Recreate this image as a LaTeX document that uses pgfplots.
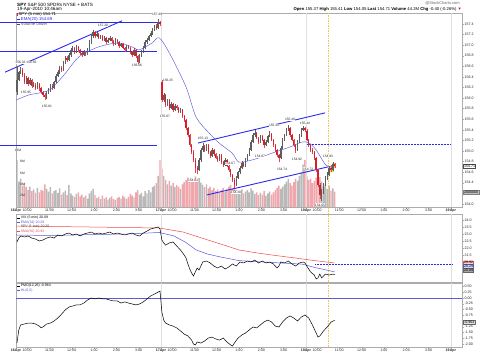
\documentclass[border=0pt]{standalone}
\usepackage{pgfplots}
\pgfplotsset{compat=1.18}
\usepackage{pgfplotstable}
\usepackage{fontspec}
\setmainfont{Liberation Sans}
\definecolor{upc}{HTML}{5E5E5E}
\definecolor{dnc}{HTML}{D81E2C}
\definecolor{vup}{HTML}{B9B9B9}
\definecolor{vdn}{HTML}{F0A6AD}
\definecolor{chan}{HTML}{2B2BEA}
\definecolor{emac}{HTML}{5B5BD8}
\definecolor{smac}{HTML}{F04A4A}
\definecolor{orng}{HTML}{F5C15A}
\definecolor{hil}{HTML}{F3DC3A}

\pgfplotstableread{
x o h l c v
0.5 156.12 156.60 156.06 156.34 8.3
1.5 156.34 156.52 156.32 156.49 4.5
2.5 156.49 156.59 156.46 156.53 5.0
3.5 156.53 156.56 156.40 156.44 3.8
4.5 156.44 156.47 156.27 156.30 4.2
5.5 156.30 156.42 156.26 156.38 3.5
6.5 156.38 156.40 156.22 156.27 3.0
7.5 156.27 156.38 156.25 156.34 3.6
8.5 156.34 156.36 156.19 156.23 2.8
9.5 156.23 156.30 156.20 156.25 3.1
10.5 156.25 156.28 156.15 156.19 2.5
11.5 156.19 156.31 156.17 156.27 3.4
12.5 156.27 156.29 156.14 156.19 2.6
13.5 156.19 156.21 156.08 156.11 3.0
14.5 156.11 156.14 156.02 156.06 2.9
15.5 156.06 156.09 155.96 156.02 4.0
16.5 156.02 156.13 155.99 156.10 3.2
17.5 156.10 156.19 156.07 156.15 2.7
18.5 156.15 156.26 156.12 156.23 3.5
19.5 156.23 156.27 156.15 156.19 2.4
20.5 156.19 156.33 156.17 156.30 2.8
21.5 156.30 156.45 156.28 156.42 3.0
22.5 156.42 156.53 156.39 156.49 2.5
23.5 156.49 156.60 156.46 156.57 3.3
24.5 156.57 156.61 156.49 156.53 2.2
25.5 156.53 156.71 156.51 156.68 2.6
26.5 156.68 156.80 156.65 156.76 2.9
27.5 156.76 156.79 156.68 156.72 2.1
28.5 156.72 156.85 156.70 156.81 3.9
29.5 156.81 156.94 156.78 156.91 2.4
30.5 156.91 156.99 156.88 156.95 2.0
31.5 156.95 156.97 156.84 156.87 1.8
32.5 156.87 157.00 156.85 156.96 2.3
33.5 156.96 156.98 156.88 156.91 2.6
34.5 156.91 156.93 156.81 156.85 1.9
35.5 156.85 156.88 156.78 156.81 2.2
36.5 156.81 156.90 156.79 156.87 1.7
37.5 156.87 156.89 156.80 156.83 2.0
38.5 156.83 156.94 156.81 156.91 1.5
39.5 156.91 157.09 156.89 157.06 2.4
40.5 157.06 157.21 157.03 157.17 2.8
41.5 157.17 157.29 157.14 157.25 3.2
42.5 157.25 157.27 157.13 157.17 2.1
43.5 157.17 157.24 157.15 157.21 1.6
44.5 157.21 157.23 157.11 157.14 1.8
45.5 157.14 157.20 157.12 157.17 1.4
46.5 157.17 157.19 157.07 157.10 2.0
47.5 157.10 157.17 157.08 157.14 1.5
48.5 157.14 157.16 157.03 157.06 1.7
49.5 157.06 157.13 157.04 157.10 1.3
50.5 157.10 157.17 157.08 157.14 1.6
51.5 157.14 157.16 157.05 157.08 1.9
52.5 157.08 157.10 156.99 157.02 1.4
53.5 157.02 157.13 157.00 157.10 1.2
54.5 157.10 157.12 157.03 157.06 1.6
55.5 157.06 157.08 156.95 156.98 1.8
56.5 156.98 157.05 156.96 157.02 1.5
57.5 157.02 157.04 156.92 156.95 2.0
58.5 156.95 156.97 156.88 156.91 1.7
59.5 156.91 157.01 156.89 156.98 1.4
60.5 156.98 157.00 156.92 156.95 1.8
61.5 156.95 156.97 156.84 156.87 2.3
62.5 156.87 156.89 156.78 156.81 2.0
63.5 156.81 156.94 156.79 156.91 1.7
64.5 156.91 156.93 156.76 156.80 2.6
65.5 156.80 156.82 156.63 156.68 3.0
66.5 156.68 156.83 156.66 156.80 2.2
67.5 156.80 156.90 156.77 156.87 2.5
68.5 156.87 156.98 156.85 156.95 1.9
69.5 156.95 157.09 156.93 157.06 2.8
70.5 157.06 157.14 157.03 157.10 2.4
71.5 157.10 157.20 157.08 157.17 3.0
72.5 157.17 157.26 157.15 157.23 2.6
73.5 157.23 157.32 157.20 157.29 3.5
74.5 157.29 157.39 157.27 157.36 3.8
75.5 157.36 157.40 157.29 157.32 4.2
76.5 157.32 157.49 157.30 157.44 5.5
77.5 157.44 157.46 157.36 157.40 8.3
78.5 156.30 156.34 155.92 155.96 6.8
79.5 155.96 156.10 155.93 156.06 5.5
80.5 156.06 156.08 155.84 155.87 4.8
81.5 155.87 155.99 155.85 155.96 4.0
82.5 155.96 155.98 155.78 155.81 4.6
83.5 155.81 155.93 155.79 155.89 3.8
84.5 155.89 155.91 155.73 155.77 4.2
85.5 155.77 155.88 155.75 155.85 3.5
86.5 155.85 155.87 155.78 155.81 3.9
87.5 155.81 155.83 155.71 155.74 3.6
88.5 155.74 155.81 155.72 155.77 3.2
89.5 155.77 155.79 155.63 155.66 4.0
90.5 155.66 155.68 155.55 155.59 4.4
91.5 155.59 155.61 155.40 155.43 4.8
92.5 155.43 155.46 155.27 155.30 5.2
93.5 155.30 155.32 155.08 155.11 4.6
94.5 155.11 155.13 154.94 154.98 5.0
95.5 154.98 155.01 154.79 154.83 4.7
96.5 154.83 154.86 154.59 154.68 5.4
97.5 154.68 154.72 154.56 154.64 4.9
98.5 154.64 154.87 154.62 154.83 5.1
99.5 154.83 155.06 154.80 155.02 4.3
100.5 155.02 155.15 154.99 155.09 3.9
101.5 155.09 155.12 154.98 155.02 3.5
102.5 155.02 155.14 155.00 155.11 4.0
103.5 155.11 155.13 154.95 154.98 3.3
104.5 154.98 155.00 154.87 154.91 3.6
105.5 154.91 155.05 154.89 155.02 3.0
106.5 155.02 155.04 154.91 154.94 3.4
107.5 154.94 154.96 154.84 154.87 2.8
108.5 154.87 154.90 154.80 154.83 3.1
109.5 154.83 154.95 154.81 154.92 2.6
110.5 154.92 154.94 154.76 154.79 3.0
111.5 154.79 154.81 154.70 154.73 3.4
112.5 154.73 154.86 154.71 154.83 2.7
113.5 154.83 154.85 154.69 154.72 3.2
114.5 154.72 154.74 154.60 154.64 3.6
115.5 154.64 154.66 154.51 154.55 3.9
116.5 154.55 154.57 154.41 154.45 3.3
117.5 154.45 154.48 154.30 154.36 3.8
118.5 154.36 154.52 154.34 154.49 3.0
119.5 154.49 154.63 154.47 154.60 2.8
120.5 154.60 154.71 154.57 154.68 2.5
121.5 154.68 154.81 154.66 154.77 3.1
122.5 154.77 154.79 154.69 154.72 2.4
123.5 154.72 154.86 154.70 154.83 2.7
124.5 154.83 154.95 154.81 154.92 3.0
125.5 154.92 155.05 154.90 155.02 2.6
126.5 155.02 155.20 155.00 155.17 3.3
127.5 155.17 155.34 155.15 155.30 2.9
128.5 155.30 155.39 155.27 155.34 2.3
129.5 155.34 155.36 155.22 155.25 2.6
130.5 155.25 155.27 155.13 155.17 2.1
131.5 155.17 155.31 155.15 155.28 2.5
132.5 155.28 155.30 155.18 155.21 2.2
133.5 155.21 155.23 155.05 155.11 2.8
134.5 155.11 155.20 155.09 155.17 2.0
135.5 155.17 155.31 155.15 155.28 2.4
136.5 155.28 155.38 155.26 155.32 2.7
137.5 155.32 155.34 155.18 155.21 2.2
138.5 155.21 155.23 155.08 155.11 2.6
139.5 155.11 155.13 154.98 155.02 3.0
140.5 155.02 155.04 154.88 154.92 3.4
141.5 154.92 154.95 154.79 154.87 3.8
142.5 154.87 155.09 154.85 155.06 3.2
143.5 155.06 155.24 155.04 155.21 3.6
144.5 155.21 155.33 155.18 155.30 4.0
145.5 155.30 155.43 155.28 155.40 4.5
146.5 155.40 155.49 155.37 155.43 5.0
147.5 155.43 155.45 155.27 155.30 4.2
148.5 155.30 155.32 155.18 155.21 3.8
149.5 155.21 155.23 155.07 155.11 4.4
150.5 155.11 155.13 154.96 155.02 5.0
151.5 155.02 155.20 155.00 155.17 4.6
152.5 155.17 155.33 155.15 155.30 5.5
153.5 155.30 155.43 155.27 155.40 6.2
154.5 155.40 155.47 155.37 155.43 7.5
155.5 155.43 155.45 155.35 155.40 8.3
156.5 155.37 155.41 155.18 155.21 5.4
157.5 155.21 155.23 155.08 155.11 4.8
158.5 155.11 155.14 154.98 155.02 5.0
159.5 155.02 155.05 154.94 154.98 4.2
160.5 154.98 155.00 154.83 154.87 4.6
161.5 154.87 154.89 154.60 154.64 5.2
162.5 154.64 154.66 154.32 154.36 4.0
163.5 154.36 154.39 154.10 154.17 5.3
164.5 154.17 154.28 154.05 154.22 4.5
165.5 154.22 154.40 154.19 154.36 3.6
166.5 154.36 154.53 154.33 154.49 4.1
167.5 154.49 154.60 154.46 154.55 3.2
168.5 154.55 154.72 154.52 154.68 3.8
169.5 154.68 154.73 154.60 154.64 2.9
170.5 154.64 154.80 154.62 154.75 3.3
171.5 154.75 154.78 154.67 154.71 2.7
}\spy

\pgfplotsset{
  base/.style={scale only axis, width=446pt, xmin=0, xmax=240, anchor=south west,
    axis line style={gray!65, line width=0.4pt},
    tick style={gray!65, line width=0.3pt}, major tick length=1.6pt,
    tick align=outside,
    ticklabel style={font=\fontsize{3.6}{4}\selectfont, text=black!85},
    /pgf/number format/assume math mode=true,
    ytick pos=right, yticklabel pos=right,
    xtick pos=bottom,
    xtick={0,6,18,30,42,54,66,78,84,96,108,120,132,144,156,162,174,186,198,210,222,234},
    xticklabels={\textbf{16Apr},10:00,11:00,12:00,1:00,2:00,3:00,\textbf{17Apr},10:00,11:00,12:00,1:00,2:00,3:00,\textbf{19Apr},10:00,11:00,12:00,1:00,2:00,3:00,\textbf{19Apr}},
    xticklabel style={inner sep=0.6pt},
    yticklabel style={inner sep=0.8pt},
    extra x ticks={78,156,234}, extra x tick labels={},
    extra x tick style={grid=major, major grid style={gray!25, line width=0.3pt}, major tick length=0pt},
  },
}
\tikzset{lab/.style={font=\fontsize{3.3}{3.6}\selectfont, fill=white, inner sep=0.3pt, text=black!85}}

\begin{document}
\begin{tikzpicture}[x=1pt,y=1pt]
% ---------- volume overlay
\begin{axis}[base, at={(16pt,152pt)}, height=194pt, ymin=0, ymax=34.3, hide axis]
\addplot[ybar, bar width=1.45pt, fill=vup, draw=none, restrict expr to domain={\thisrow{c}-\thisrow{o}}{0:100}] table[x=x,y=v]{\spy};
\addplot[ybar, bar width=1.45pt, fill=vdn, draw=none, restrict expr to domain={\thisrow{c}-\thisrow{o}}{-100:-0.0001}] table[x=x,y=v]{\spy};
\node[lab, anchor=west, fill=none] at (axis cs:-1,10) {10M};
\node[lab, anchor=west, fill=none] at (axis cs:2,8) {8M};
\node[lab, anchor=west, fill=none] at (axis cs:2,6) {6M};
\node[lab, anchor=west, fill=none] at (axis cs:2,4) {4M};
\node[lab, anchor=west, fill=none] at (axis cs:2,2) {2M};
\end{axis}
% ---------- price panel
\begin{axis}[base, at={(16pt,152pt)}, height=194pt, ymin=153.941, ymax=157.608, clip=false,
  ytick={154.0,154.4,154.6,154.8,155.0,155.2,155.4,155.6,155.8,156.0,156.2,156.4,156.6,156.8,157.0,157.2,157.4},
  yticklabel style={/pgf/number format/.cd, fixed, fixed zerofill, precision=1},
  xticklabel style={yshift=0.5pt}]
% channel lines
\addplot[chan, line width=0.9pt] coordinates {(-5.9,156.49) (57.05,157.46)};
\addplot[chan, line width=0.9pt] coordinates {(-8.6,157.42) (75.9,157.42)};
\addplot[chan, line width=0.9pt] coordinates {(-8.6,156.89) (75.9,156.89)};
\addplot[chan, line width=0.9pt] coordinates {(-8.6,155.11) (75.9,155.11)};
\addplot[chan, line width=0.9pt] coordinates {(97.95,155.15) (166.3,155.72)};
\addplot[chan, line width=0.9pt] coordinates {(102.8,154.17) (171.7,154.73)};
\addplot[chan, line width=0.5pt, densely dotted] coordinates {(156.6,155.13) (233.6,155.13)};
% orange time marker
\addplot[orng, line width=0.6pt, dash pattern=on 1.5pt off 1pt] coordinates {(167.9,153.80) (167.9,157.608)};
% highlight behind last candles
\addplot[draw=none, mark=none, restrict x to domain=168:172,
  error bars/.cd, y dir=plus, y explicit, error mark=none,
  error bar style={draw=hil, line width=2.6pt}]
  table[x=x, y expr={min(\thisrow{o},\thisrow{c})-0.03}, y error expr={abs(\thisrow{c}-\thisrow{o})+0.06}] {\spy};
% wicks
\addplot[draw=none, mark=none, restrict expr to domain={\thisrow{c}-\thisrow{o}}{0:100},
  error bars/.cd, y dir=plus, y explicit, error mark=none,
  error bar style={draw=upc, line width=0.4pt}]
  table[x=x, y=l, y error expr=\thisrow{h}-\thisrow{l}] {\spy};
\addplot[draw=none, mark=none, restrict expr to domain={\thisrow{c}-\thisrow{o}}{-100:-0.0001},
  error bars/.cd, y dir=plus, y explicit, error mark=none,
  error bar style={draw=dnc!80, line width=0.4pt}]
  table[x=x, y=l, y error expr=\thisrow{h}-\thisrow{l}] {\spy};
% bodies
\addplot[draw=none, mark=none, restrict expr to domain={\thisrow{c}-\thisrow{o}}{0:100},
  error bars/.cd, y dir=plus, y explicit, error mark=none,
  error bar style={draw=upc, line width=1.35pt}]
  table[x=x, y expr={min(\thisrow{o},\thisrow{c})}, y error expr={abs(\thisrow{c}-\thisrow{o})}] {\spy};
\addplot[draw=none, mark=none, restrict expr to domain={\thisrow{c}-\thisrow{o}}{-100:-0.0001},
  error bars/.cd, y dir=plus, y explicit, error mark=none,
  error bar style={draw=dnc, line width=1.35pt}]
  table[x=x, y expr={min(\thisrow{o},\thisrow{c})}, y error expr={abs(\thisrow{c}-\thisrow{o})}] {\spy};
% EMA(20)
\addplot[emac, line width=0.45pt, smooth] coordinates {
(0,155.96) (7,156.06) (17.8,156.15) (25.9,156.44) (33.9,156.78) (44.7,156.97) (55.5,157.04)
(63.5,156.95) (66.2,156.91) (73.2,157.04) (77,157.14) (82.4,156.86) (91.5,156.21) (96.9,155.64)
(103.9,155.34) (109.3,155.15) (116.3,154.96) (120,154.79) (127,154.83) (132.4,154.89)
(137.8,154.96) (147,155.07) (154,155.17) (157.7,155.15) (161.5,155.02) (166.9,154.73) (171.5,154.70)};
% swing labels
\node[lab] at (axis cs:5.4,156.68) {156.33 156.56};
\node[lab] at (axis cs:5.4,156.11) {155.95};
\node[lab] at (axis cs:16.7,155.85) {155.81};
\node[lab] at (axis cs:46.8,157.38) {157.20};
\node[lab] at (axis cs:65.1,156.61) {156.66};
\node[lab] at (axis cs:75.9,157.59) {157.49};
\node[lab] at (axis cs:81.8,156.34) {156.25};
\node[lab] at (axis cs:80.2,155.66) {155.67};
\node[lab] at (axis cs:100.6,155.23) {155.13};
\node[lab] at (axis cs:95.3,154.45) {154.82};
\node[lab] at (axis cs:115.2,154.77) {154.67};
\node[lab] at (axis cs:118.4,154.22) {154.30};
\node[lab] at (axis cs:131.3,154.89) {154.87};
\node[lab] at (axis cs:138.9,155.49) {155.30};
\node[lab] at (axis cs:143.2,154.66) {154.74};
\node[lab] at (axis cs:147.5,155.59) {155.48};
\node[lab] at (axis cs:151.2,154.85) {154.92};
\node[lab] at (axis cs:155.5,155.53) {155.44};
\node[lab] at (axis cs:157.2,154.66) {154.72};
\node[lab] at (axis cs:167.9,154.89) {154.93};
\node[lab] at (axis cs:163.6,153.98) {154.05};
% right value boxes
\node[font=\fontsize{3.6}{4}\selectfont, draw=black!70, fill=white, inner sep=0.5pt, anchor=west, line width=0.3pt] at (axis cs:240.8,154.716) {154.71};
\node[font=\fontsize{3.6}{4}\selectfont, draw=black!50, fill=black!25, inner sep=0.5pt, anchor=west, line width=0.3pt] at (axis cs:240.8,154.22) {2000000};
\end{axis}
% ---------- indicator panel
\begin{axis}[base, at={(16pt,77pt)}, height=68pt, ymin=19.571, ymax=24.43,
  xticklabels={}, clip=false,
  ytick={21.5,22.0,22.5,23.0,23.5,24.0},
  yticklabel style={/pgf/number format/.cd, fixed, fixed zerofill, precision=1}]
\addplot[orng, line width=0.6pt, dash pattern=on 1.5pt off 1pt] coordinates {(167.9,19.571) (167.9,24.93)};
\addplot[chan, line width=0.5pt, densely dotted] coordinates {(160.9,20.86) (234.7,20.86)};
\addplot[smac, line width=0.5pt] coordinates {(0,23.57) (40,23.50) (77,23.43) (90,23.14) (100,22.71) (110,22.29) (120,21.86) (130,21.64) (140,21.46) (150,21.29) (160,21.11) (171.5,20.93)};
\addplot[emac, line width=0.5pt] coordinates {(0,22.93) (20,22.89) (40,22.96) (60,23.00) (77,23.11) (85,22.86) (91,22.43) (97,21.86) (103,21.57) (110,21.36) (120,21.10) (130,21.02) (140,20.95) (154,20.85) (161,20.60) (167,20.43) (171.5,20.29)};
\addplot[black, line width=0.5pt] coordinates {
(0.5,22.43) (1.5,22.71) (2.5,22.86) (4.5,22.79) (6.5,22.86) (8.5,22.71) (10.5,22.64) (12.5,22.50) (14.5,22.57) (16.5,22.71) (18.5,22.79) (20.5,22.71) (22.5,22.93) (24.5,22.86) (26.5,23.00) (28.5,23.07) (30.5,22.93) (32.5,23.00) (34.5,22.86) (36.5,23.00) (38.5,23.07) (40.5,23.14) (42.5,23.00) (44.5,23.07) (46.5,23.00) (48.5,23.07) (50.5,23.14) (52.5,23.00) (54.5,23.07) (56.5,23.00) (58.5,22.93) (60.5,23.00) (62.5,23.07) (64.5,22.93) (66.5,22.86) (68.5,23.07) (70.5,23.21) (72.5,23.36) (74.5,23.43) (76.5,23.50) (77.5,23.36)
(78.5,22.57) (79.5,22.36) (80.5,22.21) (82.5,22.36) (84.5,22.43) (86.5,22.14) (88.5,21.86) (90.5,21.50) (91.5,21.29) (92.5,20.86) (93.5,20.50) (94.5,20.21) (95.5,20.00) (96.5,20.29) (97.5,20.57) (98.5,20.43) (99.5,20.71) (100.5,21.00) (102.5,21.07) (104.5,20.93) (106.5,20.71) (108.5,20.57) (110.5,20.71) (112.5,20.50) (114.5,20.64) (116.5,20.86) (118.5,20.71) (120.5,21.00) (122.5,20.93) (124.5,21.07) (126.5,21.00) (128.5,21.14) (130.5,20.93) (132.5,21.07) (134.5,20.93) (136.5,21.00) (138.5,20.86) (140.5,20.57) (141.5,20.71) (142.5,21.00) (144.5,20.93) (146.5,21.07) (148.5,20.86) (150.5,20.71) (152.5,20.93) (154.5,21.00) (155.5,20.93)
(156.5,20.71) (158.5,20.29) (160.5,20.07) (161.5,19.79) (162.5,19.86) (163.5,20.14) (164.5,19.86) (165.5,20.00) (166.5,20.14) (168.5,20.07) (170.5,20.14) (171.5,20.09)};
\node[font=\fontsize{3.6}{4}\selectfont, draw=smac, fill=smac!25, inner sep=0.5pt, anchor=west, line width=0.3pt] at (axis cs:240.8,20.96) {20.92};
\node[font=\fontsize{3.6}{4}\selectfont, draw=emac, fill=emac!25, inner sep=0.5pt, anchor=west, line width=0.3pt] at (axis cs:240.8,20.71) {20.29};
\node[font=\fontsize{3.6}{4}\selectfont, draw=black!60, fill=black!35, inner sep=0.5pt, anchor=west, line width=0.3pt] at (axis cs:240.8,20.43) {20.09};
\end{axis}
% ---------- PMO panel
\begin{axis}[base, at={(16pt,12pt)}, height=64pt, ymin=-2.130, ymax=0.652, clip=false,
  ytick={-2.00,-1.75,-1.50,-1.25,-0.75,-0.50,-0.25,0.00,0.25,0.50},
  yticklabel style={/pgf/number format/.cd, fixed, fixed zerofill, precision=2}]
\addplot[orng, line width=0.6pt, dash pattern=on 1.5pt off 1pt] coordinates {(167.9,-2.13) (167.9,0.652)};
\addplot[emac, line width=0.55pt] coordinates {(0,0) (240,0)};
\addplot[black, line width=0.5pt] coordinates {
(0.5,-1.96) (1.5,-1.39) (2.5,-1.17) (4.5,-1.13) (6.5,-1.09) (8.5,-1.09) (10.5,-1.13) (12.5,-1.22) (13.5,-1.30) (14.5,-1.26) (16.5,-1.13) (18.5,-1.09) (20.5,-1.00) (22.5,-0.87) (24.5,-0.70) (26.5,-0.52) (28.5,-0.39) (30.5,-0.35) (32.5,-0.30) (34.5,-0.30) (36.5,-0.22) (38.5,-0.09) (40.5,0.00) (42.5,-0.04) (44.5,0.00) (46.5,-0.04) (48.5,-0.04) (50.5,-0.09) (52.5,-0.13) (54.5,-0.13) (56.5,-0.22) (58.5,-0.17) (60.5,-0.22) (62.5,-0.26) (64.5,-0.30) (66.5,-0.26) (68.5,-0.17) (70.5,-0.04) (72.5,0.09) (74.5,0.17) (76.5,0.26) (77.5,0.30)
(78.5,-0.61) (79.5,-0.96) (80.5,-1.09) (82.5,-1.17) (84.5,-1.22) (86.5,-1.30) (88.5,-1.43) (90.5,-1.57) (92.5,-1.65) (94.5,-1.83) (95.5,-2.00) (96.5,-2.04) (97.5,-1.91) (99.5,-1.96) (101.5,-1.87) (103.5,-1.74) (105.5,-1.70) (107.5,-1.78) (109.5,-1.83) (111.5,-1.74) (113.5,-1.91) (115.5,-2.04) (116.5,-2.09) (117.5,-1.96) (119.5,-1.74) (121.5,-1.61) (123.5,-1.52) (125.5,-1.39) (127.5,-1.26) (129.5,-1.30) (131.5,-1.17) (133.5,-1.04) (135.5,-0.96) (137.5,-1.04) (139.5,-1.22) (141.5,-1.26) (143.5,-1.04) (145.5,-0.87) (147.5,-0.78) (149.5,-0.87) (151.5,-1.00) (153.5,-0.83) (155.5,-0.74)
(157.5,-0.87) (159.5,-1.17) (161.5,-1.52) (162.5,-1.70) (163.5,-1.65) (165.5,-1.43) (167.5,-1.26) (169.5,-1.05) (171.5,-0.964)};
\node[font=\fontsize{3.6}{4}\selectfont, draw=black!60, fill=black!12, inner sep=0.5pt, anchor=west, line width=0.3pt] at (axis cs:240.8,-1.04) {-0.964};
\end{axis}
% ---------- header texts
\node[anchor=west, inner sep=0pt, font=\fontsize{4.6}{5}\selectfont] at (17pt,354.5pt) {\textbf{SPY} S\&P 500 SPDRs NYSE + BATS};
\node[anchor=west, inner sep=0pt, font=\fontsize{4.6}{5}\selectfont] at (17pt,349.5pt) {19-Apr-2010 10:46am};
\node[anchor=west, inner sep=0pt, font=\fontsize{4.3}{5}\selectfont] at (17pt,344.5pt) {\textcolor{dnc}{\rule{0.6pt}{2.6pt}}\,SPY (5 min) 154.71};
\node[anchor=west, inner sep=0pt, font=\fontsize{4.3}{5}\selectfont, text=chan] at (17pt,340pt) {\rule[0.8pt]{3pt}{0.5pt}\,EMA(20) 154.69};
\node[anchor=west, inner sep=0pt, font=\fontsize{4.3}{5}\selectfont, text=black!70] at (17pt,335.5pt) {\rule[0.8pt]{3pt}{0.5pt}\,Volume undef};
\node[anchor=east, inner sep=0pt, font=\fontsize{4}{5}\selectfont, text=black!60] at (460pt,356pt) {@StockCharts.com};
\node[anchor=east, inner sep=0pt, font=\fontsize{4.2}{5}\selectfont] at (462pt,350pt) {\textbf{Open} 155.37 \textbf{High} 155.41 \textbf{Low} 154.05 \textbf{Last} 154.71 \textbf{Volume} 44.2M \textbf{Chg} -0.40 (-0.26\%) \textcolor{dnc}{▼}};
% indicator legends
\node[anchor=west, inner sep=0pt, font=\fontsize{3.5}{4}\selectfont] at (17pt,141pt) {\rule[0.8pt]{3pt}{0.5pt}\,VIX (5 min) 20.09};
\node[anchor=west, inner sep=0pt, font=\fontsize{3.5}{4}\selectfont, text=emac] at (17pt,136.5pt) {\rule[0.8pt]{3pt}{0.5pt}\,EMA(34) 20.29};
\node[anchor=west, inner sep=0pt, font=\fontsize{3.5}{4}\selectfont, text=black!70] at (17pt,132pt) {\hphantom{\rule{3pt}{0.5pt}}\,SEV (1 min) 20.20};
\node[anchor=west, inner sep=0pt, font=\fontsize{3.5}{4}\selectfont, text=smac] at (17pt,127.5pt) {\rule[0.8pt]{3pt}{0.5pt}\,SMA(50) 20.92};
\node[anchor=west, inner sep=0pt, font=\fontsize{3.5}{4}\selectfont] at (17pt,73pt) {\rule[0.8pt]{3pt}{0.5pt}\,PMO(12,26) -0.964};
\node[anchor=west, inner sep=0pt, font=\fontsize{3.5}{4}\selectfont, text=emac] at (17pt,68.5pt) {\rule[0.8pt]{3pt}{0.5pt}\,HL(0,0)};
\pgfresetboundingbox
\useasboundingbox (0,0) rectangle (480pt,359pt);
\end{tikzpicture}
\end{document}
